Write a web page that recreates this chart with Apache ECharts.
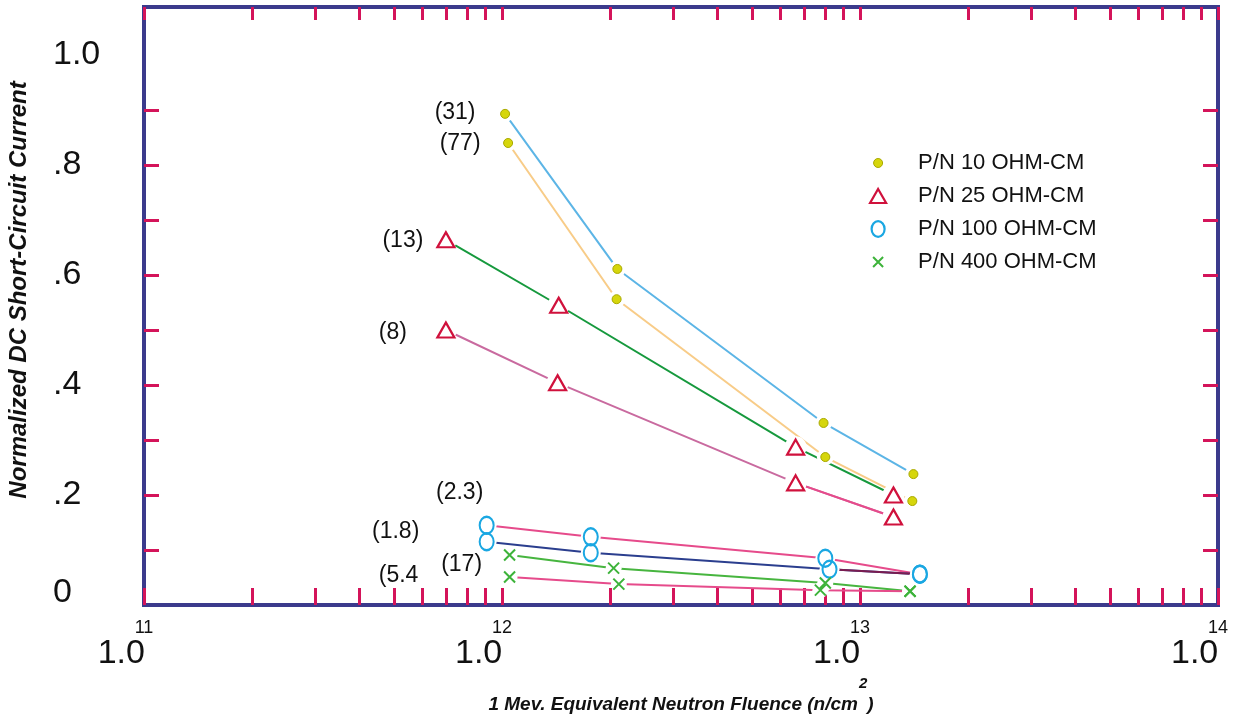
<!DOCTYPE html>
<html><head><meta charset="utf-8">
<script src="https://cdn.jsdelivr.net/npm/echarts@6/dist/echarts.min.js"></script>
<style>html,body{margin:0;padding:0;background:#fff}#c{width:1233px;height:721px}</style>
</head><body><div id="c"></div>
<script>
// ---------- DATA ----------
const groupNames = ['P/N 10 OHM-CM', 'P/N 25 OHM-CM', 'P/N 100 OHM-CM', 'P/N 400 OHM-CM'];

// P/N 10 OHM-CM
const pn10_31_x = [1.02e12, 2.10e12, 7.91e12, 1.41e13];
const pn10_31_y = [0.893, 0.611, 0.331, 0.238];
const pn10_77_x = [1.04e12, 2.09e12, 8.00e12, 1.40e13];
const pn10_77_y = [0.840, 0.556, 0.269, 0.189];
// P/N 25 OHM-CM
const pn25_13_x = [6.97e11, 1.44e12, 6.61e12, 1.24e13];
const pn25_13_y = [0.664, 0.545, 0.287, 0.200];
const pn25_8_x = [6.97e11, 1.43e12, 6.61e12, 1.24e13];
const pn25_8_y = [0.500, 0.404, 0.222, 0.160];
// P/N 100 OHM-CM
const pn100_23_x = [9.06e11, 1.77e12, 8.00e12, 1.47e13];
const pn100_23_y = [0.145, 0.124, 0.085, 0.056];
const pn100_18_x = [9.06e11, 1.77e12, 8.22e12, 1.47e13];
const pn100_18_y = [0.115, 0.095, 0.065, 0.056];
// P/N 400 OHM-CM
const pn400_17_x = [1.05e12, 2.05e12, 8.00e12, 1.38e13];
const pn400_17_y = [0.091, 0.067, 0.040, 0.025];
const pn400_54_x = [1.05e12, 2.12e12, 7.75e12, 1.38e13];
const pn400_54_y = [0.051, 0.038, 0.027, 0.025];

const curveTags = ['(31)', '(77)', '(13)', '(8)', '(2.3)', '(1.8)', '(17)', '(5.4'];
const curveGroup = [0, 0, 1, 1, 2, 2, 3, 3];
const curveX = [pn10_31_x, pn10_77_x, pn25_13_x, pn25_8_x, pn100_23_x, pn100_18_x, pn400_17_x, pn400_54_x];
const curveY = [pn10_31_y, pn10_77_y, pn25_13_y, pn25_8_y, pn100_23_y, pn100_18_y, pn400_17_y, pn400_54_y];

// tick labels
const xTickValues = [1e11, 1e12, 1e13, 1e14];
const xTickMantissa = ['1.0', '1.0', '1.0', '1.0'];
const xTickExps = ['11', '12', '13', '14'];
const yTickValues = [0, 0.2, 0.4, 0.6, 0.8, 1.0];
const yTickLabels = ['0', '.2', '.4', '.6', '.8', '1.0'];
const xTitle = '1 Mev. Equivalent Neutron Fluence (n/cm';
const xTitleSup = '2';
const yTitle = 'Normalized DC Short-Circuit Current';

// ---------- STYLE ----------
const FONT = "'Liberation Sans', Arial, Helvetica, sans-serif";
const TICK = '#d4145a';
const FRAME = '#3b3a8c';
const lineColors = ['#5cb5e6', '#f8cc88', '#16993d', '#c96a9f', '#e64b8b', '#2b3e8e', '#47b53f', '#e64b8b'];
// colour of the last segment where it differs from the rest of the curve
const lastSegColors = [null, null, null, '#e64b8b', null, '#7a1c50', null, null];
const labelOffsets = [[-50, -1], [-48, 1], [-43, 1], [-53, 3], [-27, -33], [-91, -10], [-48, 10], [-111, -1]];
const groupStyles = [
  { symbol: 'circle', symbolSize: 9, itemStyle: { color: '#d6d60c', borderColor: '#a9a900', borderWidth: 1, opacity: 1 } },
  { symbol: 'triangle', symbolSize: [17, 15], itemStyle: { color: 'rgba(0,0,0,0)', borderColor: '#d0113c', borderWidth: 2.2, opacity: 1 } },
  { symbol: 'circle', symbolSize: [14, 17], itemStyle: { color: 'rgba(0,0,0,0)', borderColor: '#1aa7e2', borderWidth: 2.2, opacity: 1 } },
  { symbol: 'path://M0,0L10,10M10,0L0,10', symbolSize: 11, itemStyle: { color: 'rgba(0,0,0,0)', borderColor: '#3db33a', borderWidth: 2, opacity: 1 } }
];
const maskSizes = [17, 22, 20, 16];
const legendIcons = [
  'path://M0,0M16,16M12.5,8A4.5,4.5,0,1,1,3.5,8A4.5,4.5,0,1,1,12.5,8Z',
  'path://M0,0M16,16M8,1L16,15L0,15Z',
  'path://M0,0M16,16M14.5,8A6.5,7.8,0,1,1,1.5,8A6.5,7.8,0,1,1,14.5,8Z',
  'path://M0,0M16,16M3,3L13,13M13,3L3,13'
];
const legendBorder = [1, 2.2, 2.2, 2];

// minor tick positions (log decades)
const xTickPositions = [];
for (let d = 11; d <= 13; d++) for (let m = 1; m <= 9; m++) xTickPositions.push(m * Math.pow(10, d));
xTickPositions.push(1e14);
const yTickPositions = [0.1, 0.2, 0.3, 0.4, 0.5, 0.6, 0.7, 0.8, 0.9];

const Y_MAX = 1.0873;

function xAxis(pos, labels) {
  const a = {
    type: 'log', logBase: 10, min: 1e11, max: 1e14, position: pos, gridIndex: 0,
    axisLine: { show: false, onZero: false }, splitLine: { show: false },
    axisTick: { show: true, inside: true, length: labels ? 17 : 13, lineStyle: { color: TICK, width: 3 }, customValues: xTickPositions },
    axisLabel: { show: false }
  };
  if (labels) {
    a.axisLabel = {
      show: true, customValues: xTickValues, margin: 14, color: '#111', fontFamily: FONT,
      formatter: function (v) {
        let i = 0, best = 1e9;
        xTickValues.forEach(function (t, k) { const d = Math.abs(Math.log10(t) - Math.log10(v)); if (d < best) { best = d; i = k; } });
        return '{b|' + xTickMantissa[i] + '}{s|' + xTickExps[i] + '}';
      },
      rich: {
        b: { fontSize: 34, lineHeight: 34, width: 37, align: 'left', fontFamily: FONT, color: '#111', verticalAlign: 'bottom' },
        s: { fontSize: 18, fontFamily: FONT, color: '#111', verticalAlign: 'top', padding: [0, 37, 34, 0] }
      }
    };
    a.name = '{a|' + xTitle + '}{s|' + xTitleSup + '}{a|)}';
    a.nameLocation = 'middle';
    a.nameGap = 70;
    a.nameTextStyle = {
      rich: {
        a: { fontSize: 19, lineHeight: 19, fontFamily: FONT, fontWeight: 'bold', fontStyle: 'italic', color: '#111', verticalAlign: 'bottom' },
        s: { fontSize: 15, fontFamily: FONT, fontWeight: 'bold', fontStyle: 'italic', color: '#111', verticalAlign: 'top', padding: [0, 0, 23, 1] }
      }
    };
  }
  return a;
}

function yAxis(pos, labels) {
  const a = {
    type: 'value', min: 0, max: Y_MAX, position: pos, gridIndex: 0,
    axisLine: { show: false, onZero: false }, splitLine: { show: false },
    axisTick: { show: true, inside: true, length: 15, lineStyle: { color: TICK, width: 3 }, customValues: yTickPositions },
    axisLabel: { show: false }
  };
  if (labels) {
    a.axisLabel = {
      show: true, customValues: yTickValues, margin: 91, align: 'left', color: '#111', fontFamily: FONT, fontSize: 34,
      formatter: function (v) {
        let i = 0, best = 1e9;
        yTickValues.forEach(function (t, k) { const d = Math.abs(t - v); if (d < best) { best = d; i = k; } });
        return i === 0 ? '{z|' + yTickLabels[i] + '}' : yTickLabels[i];
      },
      rich: { z: { fontSize: 34, fontFamily: FONT, color: '#111', padding: [0, 0, 24, 0] } }
    };
    a.name = yTitle;
    a.nameLocation = 'middle';
    a.nameGap = 113;
    a.nameTextStyle = { fontSize: 24, fontFamily: FONT, fontWeight: 'bold', fontStyle: 'italic', color: '#111', padding: [0, 0, 0, 32] };
  }
  return a;
}

const series = [];
// connecting lines
curveTags.forEach(function (tag, c) {
  const pts = curveX[c].map(function (x, i) { return [x, curveY[c][i]]; });
  series.push({
    type: 'line', name: tag, xAxisIndex: 0, yAxisIndex: 0, symbol: 'none', silent: true, z: 2,
    lineStyle: { color: lineColors[c], width: 2 }, data: pts
  });
  if (lastSegColors[c]) {
    series.push({
      type: 'line', name: tag + ' end', xAxisIndex: 0, yAxisIndex: 0, symbol: 'none', silent: true, z: 3,
      lineStyle: { color: lastSegColors[c], width: 2 }, data: pts.slice(pts.length - 2)
    });
  }
});
// white masks leaving small gaps between lines and markers
groupNames.forEach(function (g, gi) {
  const data = [];
  curveTags.forEach(function (tag, c) {
    if (curveGroup[c] !== gi) return;
    curveX[c].forEach(function (x, i) { data.push([x, curveY[c][i]]); });
  });
  series.push({
    type: 'scatter', name: 'mask ' + gi, xAxisIndex: 0, yAxisIndex: 0, z: 4, silent: true,
    symbol: 'circle', symbolSize: maskSizes[gi], itemStyle: { color: '#fff', opacity: 1 }, data: data
  });
});
// markers, one scatter per resistivity group
groupNames.forEach(function (g, gi) {
  const data = [];
  curveTags.forEach(function (tag, c) {
    if (curveGroup[c] !== gi) return;
    curveX[c].forEach(function (x, i) {
      const item = { value: [x, curveY[c][i]] };
      if (i === 0) {
        item.label = {
          show: true, formatter: tag, position: 'inside', offset: labelOffsets[c],
          color: '#111', fontSize: 23, fontFamily: FONT, opacity: 1
        };
      }
      data.push(item);
    });
  });
  series.push(Object.assign({
    type: 'scatter', name: g, xAxisIndex: 0, yAxisIndex: 0, z: 5, silent: true, data: data
  }, groupStyles[gi]));
});

const option = {
  backgroundColor: '#fff',
  animation: false,
  grid: {
    left: 144, right: 15, top: 7, bottom: 116, containLabel: false, outerBoundsMode: 'none',
    show: true, borderColor: FRAME, borderWidth: 4, backgroundColor: 'transparent'
  },
  xAxis: [xAxis('bottom', true), xAxis('top', false)],
  yAxis: [yAxis('left', true), yAxis('right', false)],
  legend: {
    orient: 'vertical', left: 864, top: 147, itemWidth: 16, itemHeight: 16, itemGap: 11, selectedMode: false,
    textStyle: { fontSize: 22, fontFamily: FONT, color: '#111', padding: [0, 0, 0, 27] },
    data: groupNames.map(function (n, i) { return { name: n, icon: legendIcons[i], itemStyle: { borderWidth: legendBorder[i] } }; })
  },
  series: series
};

const chart = echarts.init(document.getElementById('c'), null, { renderer: 'canvas' });
chart.setOption(option);
</script></body></html>
